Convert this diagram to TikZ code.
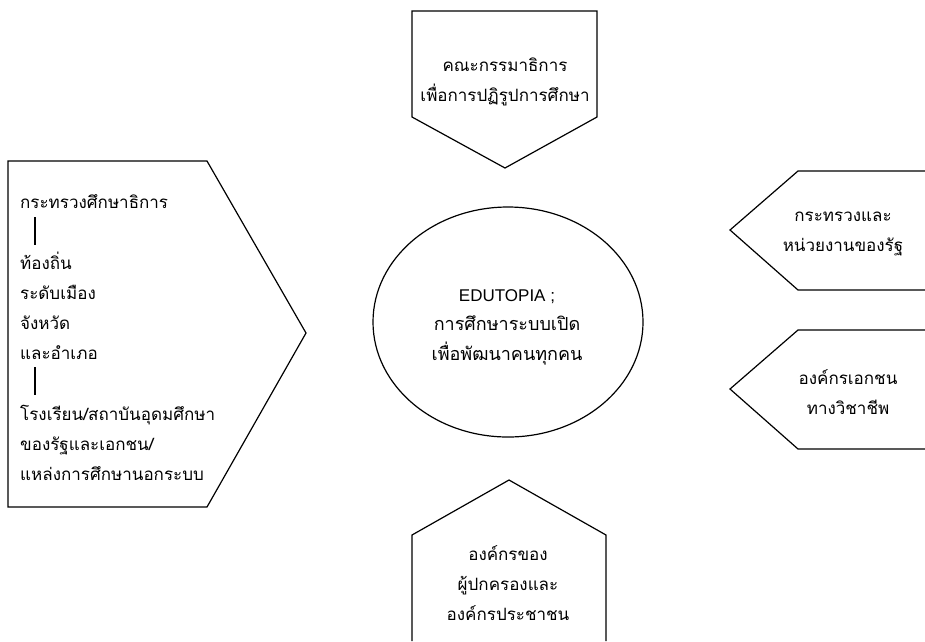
\documentclass[tikz,border=0pt]{standalone}
\usepackage{fontspec}
\setmainfont{Liberation Sans}
\newfontfamily\thaifont[Script=Thai]{Loma}
\usetikzlibrary{positioning,shapes.geometric}
\tikzstyle{diagram} = [x = 1pt, y = -1pt]
\tikzstyle{frameLine} = [color=black, line width=1.2pt, line join=miter]
\tikzstyle{boxText} = [font=\thaifont\fontsize{17}{30}\selectfont, align=center, inner sep=0pt]
\tikzstyle{listText} = [boxText, align=left, anchor=west]
\tikzstyle{hubStyle} = [ellipse, draw, line width=1.2pt, minimum width=270pt, minimum height=230pt, inner sep=0pt]

\begin{document}
\begin{tikzpicture}[diagram]
  \useasboundingbox (0,0) rectangle (925,641);

  % top arrow
  \draw [frameLine] (412,11) -- (597,11) -- (597,117) -- (505,168) -- (412,117) -- cycle;
  \node [boxText] (committee) at (505,82) {คณะกรรมาธิการ\\เพื่อการปฏิรูปการศึกษา};

  % left arrow
  \draw [frameLine] (8,161) -- (207,161) -- (306,333) -- (207,507) -- (8,507) -- cycle;
  \node [listText] (ministry) at (20,202) {กระทรวงศึกษาธิการ};
  \node [listText] (local) at (20,306) {ท้องถิ่น\\ระดับเมือง\\จังหวัด\\และอำเภอ};
  \node [listText] (schools) at (20,443) {โรงเรียน/สถาบันอุดมศึกษา\\ของรัฐและเอกชน/\\แหล่งการศึกษานอกระบบ};
  \coordinate (barOneTop) at (35,217);
  \coordinate (barOneEnd) at (35,245);
  \coordinate (barTwoTop) at (35,367);
  \coordinate (barTwoEnd) at (35,395);
  \draw [frameLine] (barOneTop) -- (barOneEnd);
  \draw [frameLine] (barTwoTop) -- (barTwoEnd);

  % centre
  \node [hubStyle] (edutopia) at (508,322) {};
  \node [boxText, font=\fontsize{17}{30}\selectfont] (hubTitle) at (507,297) {EDUTOPIA ;};
  \node [boxText, font=\thaifont\fontsize{18}{30}\selectfont] (hubText) at (507,340) {การศึกษาระบบเปิด\\เพื่อพัฒนาคนทุกคน};

  % right arrows
  \draw [frameLine] (925,171) -- (798,171) -- (730,230) -- (798,290) -- (925,290);
  \node [boxText] (stateAgency) at (843,234) {กระทรวงและ\\หน่วยงานของรัฐ};
  \draw [frameLine] (925,330) -- (798,330) -- (730,389) -- (798,449) -- (925,449);
  \node [boxText] (profOrg) at (848,392) {องค์กรเอกชน\\ทางวิชาชีพ};

  % bottom arrow
  \draw [frameLine] (412,641) -- (412,535) -- (509,480) -- (606,535) -- (606,641);
  \node [boxText] (parentOrg) at (508,583) {องค์กรของ\\ผู้ปกครองและ\\องค์กรประชาชน};
\end{tikzpicture}
\end{document}
